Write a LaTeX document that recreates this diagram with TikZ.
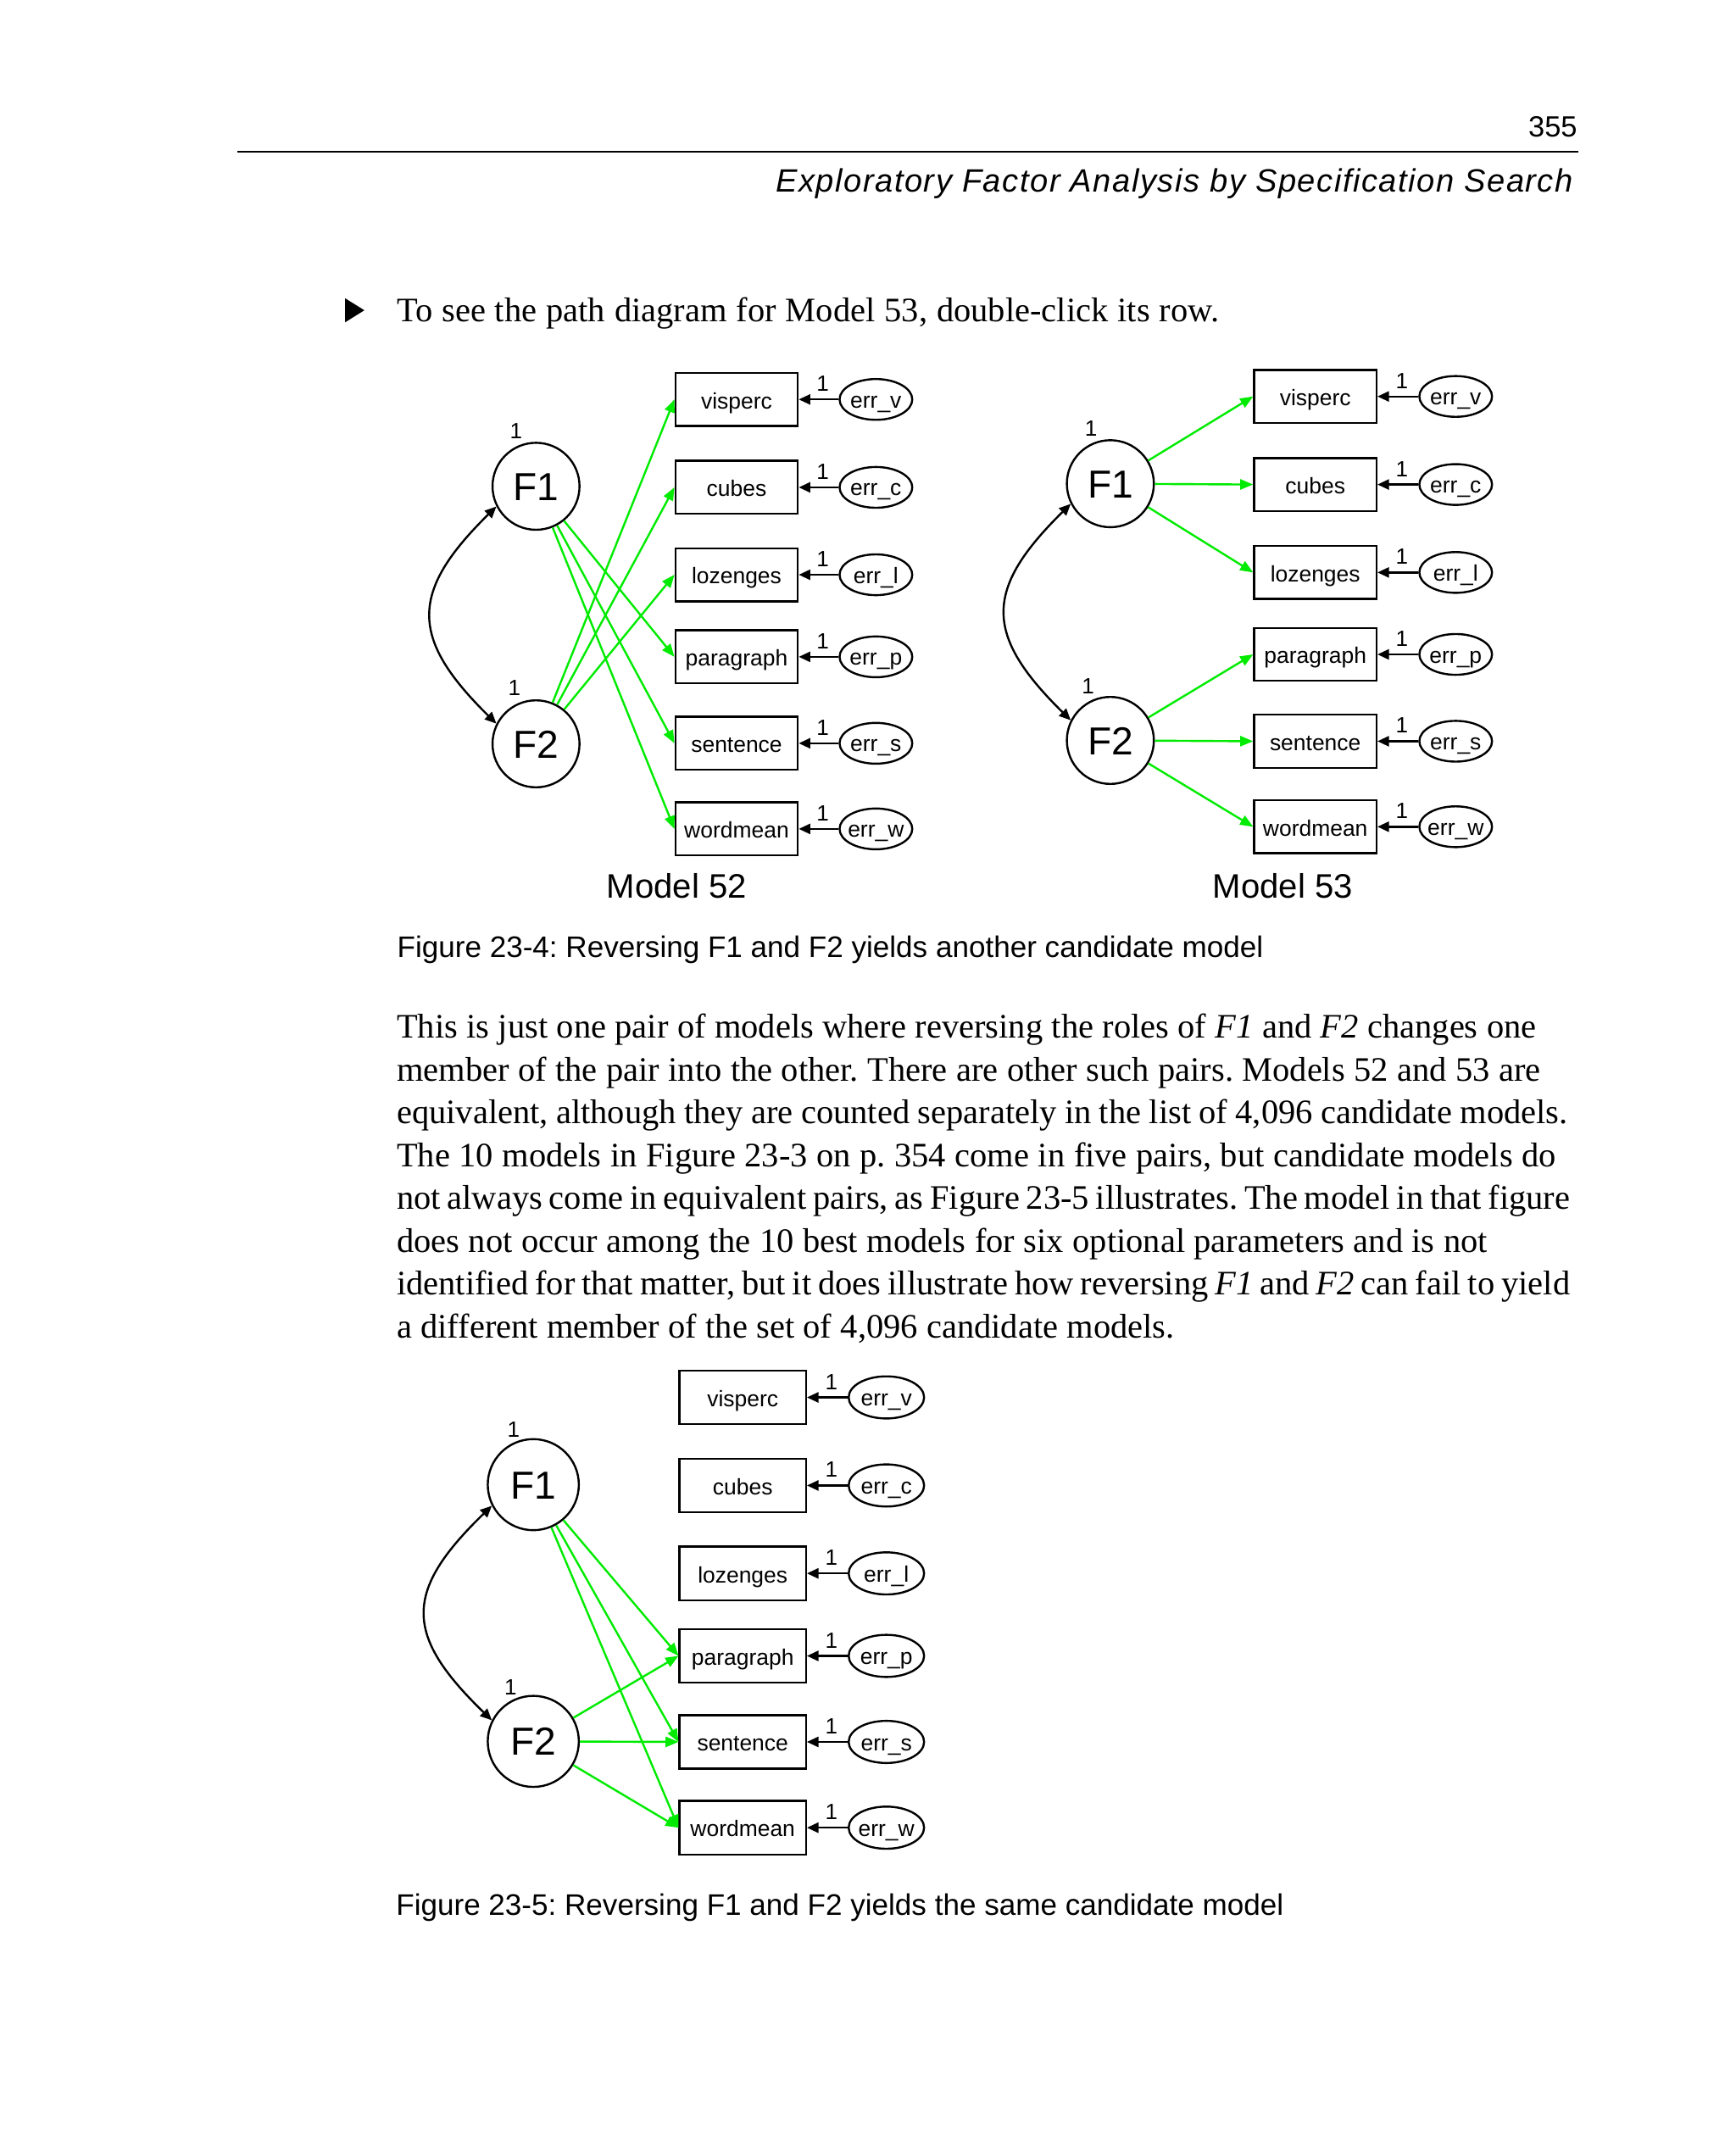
\documentclass[tikz,border=0pt]{standalone}
\usepackage{fontspec}
\setmainfont{Liberation Serif}
\newfontfamily\fsans{Liberation Sans}
\newfontfamily\fhdr[LetterSpace=4]{Liberation Sans}
\usetikzlibrary{arrows.meta,shapes.geometric,calc}
\definecolor{lgreen}{RGB}{0,235,0}
\tikzset{
  lat/.style={circle, draw, line width=0.6pt, minimum size=25.6pt, inner sep=0pt,
    font=\fsans\fontsize{11.5}{12}\selectfont, text height=8.3pt, text depth=0pt},
  latb/.style={lat, minimum size=26.8pt},
  obs/.style={rectangle, draw, line width=0.6pt, minimum width=36pt, minimum height=15.6pt,
    inner sep=0pt, font=\fsans\fontsize{6.6}{7}\selectfont, text height=5.4pt, text depth=0pt},
  obsb/.style={obs, minimum width=37.2pt, minimum height=15.8pt},
  errn/.style={ellipse, draw, line width=0.6pt, minimum width=21.4pt, minimum height=12pt,
    inner sep=0pt, font=\fsans\fontsize{6.6}{7}\selectfont, text height=5pt, text depth=0pt},
  errb/.style={errn, minimum width=22.2pt, minimum height=12.4pt},
  one/.style={inner sep=0pt, font=\fsans\fontsize{6.5}{7}\selectfont},
  gline/.style={draw=lgreen, line width=0.6pt, -{Triangle[length=3.8pt,width=3pt]}},
  eline/.style={draw=black, line width=0.6pt, -{Triangle[length=3.4pt,width=3pt]}},
  cov/.style={draw=black, line width=0.6pt, {Triangle[length=3.4pt,width=3pt]}-{Triangle[length=3.4pt,width=3pt]}},
  body/.style={anchor=base west, inner sep=0pt, font=\fontsize{10.1}{12}\selectfont},
  capt/.style={anchor=base west, inner sep=0pt, font=\fsans\fontsize{8.75}{10}\selectfont},
  mlab/.style={anchor=base west, inner sep=0pt, font=\fsans\fontsize{10}{12}\selectfont}
}
\begin{document}
\frenchspacing
\begin{tikzpicture}[x=0.4pt,y=-0.4pt]
\fill[white] (0,0) rectangle (1277,1568);
\useasboundingbox (0,0) rectangle (1277,1568);

% header
\node[anchor=base east, inner sep=0pt, font=\fsans\fontsize{8.6}{10}\selectfont] (pnum) at (1161,101) {355};
\draw[line width=0.45pt] (174.7,111.5) -- (1161.5,111.5);
\node[anchor=base east, inner sep=0pt, font=\fhdr\itshape\fontsize{9.5}{11}\selectfont] (hdr) at (1158,141) {Exploratory Factor Analysis by Specification Search};

% bullet line
\fill (254,219.5) -- (254,237.1) -- (268.1,228.3) -- cycle;
\node[body] (intro) at (291.5,236.5) {\makebox[242pt][s]{To see the path diagram for Model 53, double-click its row.}};

% ---------------- Model 52 ----------------
\node[lat] (AF1) at (394.4,357.8) {F1};
\node[lat] (AF2) at (394.4,547.3) {F2};
\node[one] (AF1one) at (379.8,317) {1};
\node[one] (AF2one) at (378.5,506.4) {1};
\foreach \k/\lab/\y in {v/visperc/293.9, c/cubes/358.6, l/lozenges/422.9, p/paragraph/483.3, s/sentence/546.9, w/wordmean/609.9}{
  \node[obs] (A\k) at (542,\y) {\lab};
  \node[errn] (EA\k) at (644.5,\y) {\makebox[0pt]{err\_\k}};
  \draw[eline] (EA\k) -- (A\k);
  \node[one] (OA\k) at ($(A\k.east)!0.6!(EA\k.west)+(0,-11.5)$) {1};
}
\draw[cov] (AF1.207) .. controls +(-64,63) and +(-64,-63) .. (AF2.153);
\foreach \k in {p,s,w}{\draw[gline] (AF1) -- (A\k.west);}
\foreach \k in {v,c,l}{\draw[gline] (AF2) -- (A\k.west);}
\node[mlab] (m52) at (446,661) {Model 52};

% ---------------- Model 53 ----------------
\node[lat] (BF1) at (817,355.9) {F1};
\node[lat] (BF2) at (817,544.8) {F2};
\node[one] (BF1one) at (802.8,315.4) {1};
\node[one] (BF2one) at (800.6,504.7) {1};
\foreach \k/\lab/\y in {v/visperc/291.7, c/cubes/356.5, l/lozenges/421.2, p/paragraph/481.5, s/sentence/545.4, w/wordmean/608.3}{
  \node[obs] (B\k) at (967.8,\y) {\lab};
  \node[errn] (EB\k) at (1071.1,\y) {\makebox[0pt]{err\_\k}};
  \draw[eline] (EB\k) -- (B\k);
  \node[one] (OB\k) at ($(B\k.east)!0.6!(EB\k.west)+(0,-11.5)$) {1};
}
\draw[cov] (BF1.207) .. controls +(-64,63) and +(-64,-63) .. (BF2.153);
\foreach \k in {v,c,l}{\draw[gline] (BF1) -- (B\k.west);}
\foreach \k in {p,s,w}{\draw[gline] (BF2) -- (B\k.west);}
\node[mlab] (m53) at (892,661) {Model 53};

\node[capt] (cap4) at (291.8,704.6) {Figure 23-4: Reversing F1 and F2 yields another candidate model};

% ---------------- body text ----------------
\node[body] (l1) at (291.5,764) {\makebox[335.4pt][s]{This is just one pair of models where reversing the roles of \textit{F1} and \textit{F2} changes one}};
\node[body] (l2) at (291.5,795.5) {\makebox[336.6pt][s]{member of the pair into the other. There are other such pairs. Models 52 and 53 are}};
\node[body] (l3) at (291.5,827) {\makebox[344.6pt][s]{equivalent, although they are counted separately in the list of 4,096 candidate models.}};
\node[body] (l4) at (291.5,858.5) {\makebox[341.2pt][s]{The 10 models in Figure 23-3 on p. 354 come in five pairs, but candidate models do}};
\node[body] (l5) at (291.5,890) {\makebox[345.3pt][s]{not always come in equivalent pairs, as Figure 23-5 illustrates. The model in that figure}};
\node[body] (l6) at (291.5,921.5) {\makebox[321pt][s]{does not occur among the 10 best models for six optional parameters and is not}};
\node[body] (l7) at (291.5,953) {\makebox[345.3pt][s]{identified for that matter, but it does illustrate how reversing \textit{F1} and \textit{F2} can fail to yield}};
\node[body] (l8) at (291.5,984.5) {\makebox[228.9pt][s]{a different member of the set of 4,096 candidate models.}};

% ---------------- Figure 23-5 ----------------
\node[latb] (CF1) at (392.4,1092.4) {F1};
\node[latb] (CF2) at (392.4,1281.3) {F2};
\node[one] (CF1one) at (377.9,1052) {1};
\node[one] (CF2one) at (375.7,1241.7) {1};
\foreach \k/\lab/\y in {v/visperc/1028.2, c/cubes/1093, l/lozenges/1157.7, p/paragraph/1218.4, s/sentence/1281.7, w/wordmean/1344.8}{
  \node[obsb] (C\k) at (546.5,\y) {\lab};
  \node[errb] (EC\k) at (652.2,\y) {\makebox[0pt]{err\_\k}};
  \draw[eline] (EC\k) -- (C\k);
  \node[one] (OC\k) at ($(C\k.east)!0.6!(EC\k.west)+(0,-11.5)$) {1};
}
\draw[cov] (CF1.207) .. controls +(-65,63) and +(-65,-63) .. (CF2.153);
\foreach \k in {p,s,w}{\draw[gline] (CF1) -- (C\k.west);}
\foreach \k in {p,s,w}{\draw[gline] (CF2) -- (C\k.west);}

\node[capt] (cap5) at (291,1409) {Figure 23-5: Reversing F1 and F2 yields the same candidate model};
\end{tikzpicture}
\end{document}
